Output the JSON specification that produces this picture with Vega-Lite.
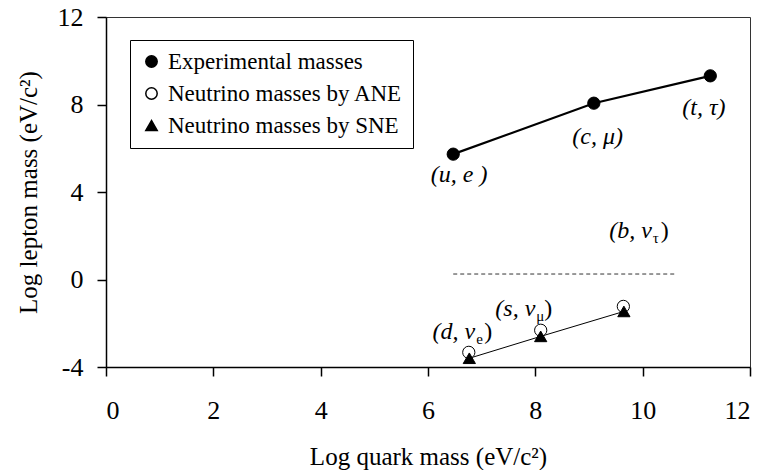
{
  "$schema": "https://vega.github.io/schema/vega-lite/v6.json",
  "width": 644,
  "height": 350,
  "autosize": "none",
  "padding": {"left": 106, "top": 17, "right": 13, "bottom": 103},
  "datasets": {
    "masses": [
      {"series": "Experimental masses", "quark": 6.47, "lepton": 5.73},
      {"series": "Experimental masses", "quark": 9.09, "lepton": 8.06},
      {"series": "Experimental masses", "quark": 11.26, "lepton": 9.31},
      {"series": "Neutrino masses by ANE", "quark": 6.76, "lepton": -3.33},
      {"series": "Neutrino masses by ANE", "quark": 8.1, "lepton": -2.32},
      {"series": "Neutrino masses by ANE", "quark": 9.64, "lepton": -1.23},
      {"series": "Neutrino masses by SNE", "quark": 6.77, "lepton": -3.6},
      {"series": "Neutrino masses by SNE", "quark": 8.1, "lepton": -2.6},
      {"series": "Neutrino masses by SNE", "quark": 9.65, "lepton": -1.46}
    ],
    "threshold": [
      {"quark": 6.47, "lepton": 0.25},
      {"quark": 10.64, "lepton": 0.25}
    ],
    "labels": [
      {"text": "(u, e )", "quark": 6.58, "lepton": 4.78},
      {"text": "(c, μ)", "quark": 9.16, "lepton": 6.52},
      {"text": "(t,  τ)", "quark": 11.14, "lepton": 7.84}
    ],
    "nu_labels": [
      {"pre": "(b, ν", "sub": "τ", "quark": 10.17, "lepton": 2.2},
      {"pre": "(s, ν", "sub": "μ", "quark": 8.0, "lepton": -1.34},
      {"pre": "(d, ν", "sub": "e", "quark": 6.88, "lepton": -2.4}
    ]
  },
  "layer": [
    {
      "data": {"name": "threshold"},
      "mark": {"type": "line", "color": "#333", "strokeWidth": 1, "strokeDash": [4, 3]},
      "encoding": {
        "x": {
          "field": "quark",
          "type": "quantitative",
          "scale": {"domain": [0, 12], "nice": false},
          "axis": {
            "title": "Log quark mass (eV/c²)",
            "values": [0, 2, 4, 6, 8, 10, 12],
            "labelExpr": "'' + datum.value",
            "labelFont": "Liberation Serif",
            "labelFontSize": 26,
            "labelPadding": 21,
            "titlePadding": 21
          }
        },
        "y": {
          "field": "lepton",
          "type": "quantitative",
          "scale": {"domain": [-4, 12], "nice": false},
          "axis": {
            "title": "Log lepton mass (eV/c²)",
            "values": [-4, 0, 4, 8, 12],
            "labelExpr": "'' + datum.value",
            "labelFont": "Liberation Serif",
            "labelFontSize": 26,
            "labelPadding": 14,
            "titlePadding": 16
          }
        }
      }
    },
    {
      "data": {"name": "masses"},
      "transform": [{"filter": "datum.series == 'Neutrino masses by SNE'"}],
      "mark": {"type": "line", "color": "black", "strokeWidth": 1},
      "encoding": {
        "x": {"field": "quark", "type": "quantitative"},
        "y": {"field": "lepton", "type": "quantitative"}
      }
    },
    {
      "data": {"name": "masses"},
      "transform": [{"filter": "datum.series == 'Experimental masses'"}],
      "mark": {"type": "line", "color": "black", "strokeWidth": 2.2},
      "encoding": {
        "x": {"field": "quark", "type": "quantitative"},
        "y": {"field": "lepton", "type": "quantitative"}
      }
    },
    {
      "data": {"name": "masses"},
      "mark": {"type": "point", "filled": true, "size": 150, "opacity": 1},
      "encoding": {
        "x": {"field": "quark", "type": "quantitative"},
        "y": {"field": "lepton", "type": "quantitative"},
        "shape": {
          "field": "series",
          "type": "nominal",
          "scale": {
            "domain": ["Experimental masses", "Neutrino masses by ANE", "Neutrino masses by SNE"],
            "range": ["circle", "circle", "triangle-up"]
          },
          "legend": {"title": null}
        },
        "fill": {
          "field": "series",
          "type": "nominal",
          "scale": {
            "domain": ["Experimental masses", "Neutrino masses by ANE", "Neutrino masses by SNE"],
            "range": ["black", "white", "black"]
          },
          "legend": {
            "title": null,
            "labelLimit": 400,
            "symbolOpacity": 1,
            "encode": {
              "symbols": {"update": {"stroke": {"value": "black"}, "strokeWidth": {"value": 1}}}
            }
          }
        },
        "stroke": {"value": "black"},
        "strokeWidth": {"value": 1}
      }
    },
    {
      "data": {"name": "labels"},
      "mark": {"type": "text", "font": "Liberation Serif", "fontSize": 24, "fontStyle": "italic", "align": "center", "baseline": "middle"},
      "encoding": {
        "x": {"field": "quark", "type": "quantitative"},
        "y": {"field": "lepton", "type": "quantitative"},
        "text": {"field": "text"}
      }
    },
    {
      "data": {"name": "nu_labels"},
      "mark": {"type": "text", "font": "Liberation Serif", "fontSize": 24, "fontStyle": "italic", "align": "right", "baseline": "middle"},
      "encoding": {
        "x": {"field": "quark", "type": "quantitative"},
        "y": {"field": "lepton", "type": "quantitative"},
        "text": {"field": "pre"}
      }
    },
    {
      "data": {"name": "nu_labels"},
      "mark": {"type": "text", "font": "Liberation Serif", "fontSize": 15, "align": "left", "baseline": "middle", "dx": 1, "dy": 7},
      "encoding": {
        "x": {"field": "quark", "type": "quantitative"},
        "y": {"field": "lepton", "type": "quantitative"},
        "text": {"field": "sub"}
      }
    },
    {
      "data": {"name": "nu_labels"},
      "mark": {"type": "text", "font": "Liberation Serif", "fontSize": 24, "align": "left", "baseline": "middle", "dx": 9, "text": ")"},
      "encoding": {
        "x": {"field": "quark", "type": "quantitative"},
        "y": {"field": "lepton", "type": "quantitative"}
      }
    }
  ],
  "config": {
    "background": "white",
    "view": {"stroke": "#333", "strokeWidth": 1},
    "font": "Liberation Serif",
    "axis": {
      "grid": false,
      "domainColor": "black",
      "domainWidth": 1.5,
      "tickColor": "black",
      "tickWidth": 1.5,
      "tickSize": 9,
      "labelColor": "black",
      "titleFont": "Liberation Serif",
      "titleFontSize": 25,
      "titleFontWeight": "normal",
      "titleColor": "black"
    },
    "legend": {
      "orient": "none",
      "legendX": 24,
      "legendY": 23,
      "strokeColor": "black",
      "fillColor": "white",
      "padding": 10,
      "labelFont": "Liberation Serif",
      "labelFontSize": 23,
      "labelColor": "black",
      "symbolSize": 130,
      "rowPadding": 8,
      "labelOffset": 5
    }
  }
}
